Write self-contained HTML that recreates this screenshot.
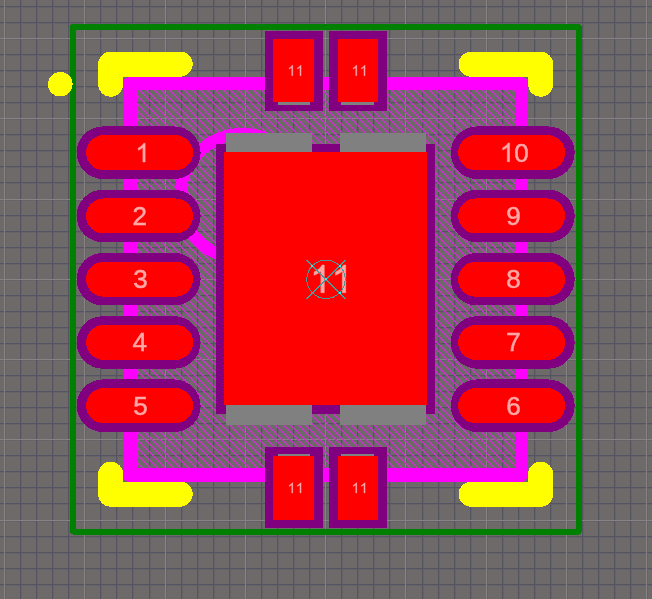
<!DOCTYPE html><html><head><meta charset="utf-8"><style>html,body{margin:0;padding:0;background:#6e6a6a;}svg{display:block}text{font-family:"Liberation Sans",sans-serif;}</style></head><body>
<div style="position:relative;width:652px;height:599px;overflow:hidden">
<svg width="652" height="599" style="position:absolute;left:0;top:0" shape-rendering="crispEdges"><rect width="652" height="599" fill="#6e6a6a"/><path d="M20 0h1v599h-1zM36 0h1v599h-1zM52 0h1v599h-1zM68 0h1v599h-1zM100 0h1v599h-1zM116 0h1v599h-1zM132 0h1v599h-1zM149 0h1v599h-1zM181 0h1v599h-1zM197 0h1v599h-1zM213 0h1v599h-1zM229 0h1v599h-1zM261 0h1v599h-1zM277 0h1v599h-1zM293 0h1v599h-1zM309 0h1v599h-1zM341 0h1v599h-1zM357 0h1v599h-1zM373 0h1v599h-1zM389 0h1v599h-1zM422 0h1v599h-1zM438 0h1v599h-1zM454 0h1v599h-1zM470 0h1v599h-1zM502 0h1v599h-1zM518 0h1v599h-1zM534 0h1v599h-1zM550 0h1v599h-1zM582 0h1v599h-1zM598 0h1v599h-1zM614 0h1v599h-1zM630 0h1v599h-1zM0 6h652v1h-652zM0 22h652v1h-652zM0 54h652v1h-652zM0 70h652v1h-652zM0 86h652v1h-652zM0 102h652v1h-652zM0 134h652v1h-652zM0 150h652v1h-652zM0 166h652v1h-652zM0 182h652v1h-652zM0 215h652v1h-652zM0 231h652v1h-652zM0 247h652v1h-652zM0 263h652v1h-652zM0 295h652v1h-652zM0 311h652v1h-652zM0 327h652v1h-652zM0 343h652v1h-652zM0 375h652v1h-652zM0 391h652v1h-652zM0 407h652v1h-652zM0 423h652v1h-652zM0 455h652v1h-652zM0 471h652v1h-652zM0 487h652v1h-652zM0 503h652v1h-652zM0 536h652v1h-652zM0 552h652v1h-652zM0 568h652v1h-652zM0 584h652v1h-652z" fill="#545462"/><path d="M4 0h1v599h-1zM84 0h1v599h-1zM165 0h1v599h-1zM245 0h1v599h-1zM325 0h1v599h-1zM405 0h1v599h-1zM486 0h1v599h-1zM566 0h1v599h-1zM646 0h1v599h-1zM0 38h652v1h-652zM0 118h652v1h-652zM0 199h652v1h-652zM0 279h652v1h-652zM0 359h652v1h-652zM0 439h652v1h-652zM0 520h652v1h-652z" fill="#878384"/><clipPath id="fhc"><rect x="136" y="90" width="380" height="378"/></clipPath><path clip-path="url(#fhc)" d="M-244 88L138 470M-237 88L145 470M-229 88L153 470M-222 88L160 470M-214 88L168 470M-206 88L176 470M-199 88L183 470M-191 88L191 470M-183 88L199 470M-176 88L206 470M-168 88L214 470M-160 88L222 470M-153 88L229 470M-145 88L237 470M-138 88L244 470M-130 88L252 470M-122 88L260 470M-115 88L267 470M-107 88L275 470M-99 88L283 470M-92 88L290 470M-84 88L298 470M-76 88L306 470M-69 88L313 470M-61 88L321 470M-53 88L329 470M-46 88L336 470M-38 88L344 470M-31 88L351 470M-23 88L359 470M-15 88L367 470M-8 88L374 470M0 88L382 470M8 88L390 470M15 88L397 470M23 88L405 470M31 88L413 470M38 88L420 470M46 88L428 470M53 88L435 470M61 88L443 470M69 88L451 470M76 88L458 470M84 88L466 470M92 88L474 470M99 88L481 470M107 88L489 470M115 88L497 470M122 88L504 470M130 88L512 470M138 88L520 470M145 88L527 470M153 88L535 470M160 88L542 470M168 88L550 470M176 88L558 470M183 88L565 470M191 88L573 470M199 88L581 470M206 88L588 470M214 88L596 470M222 88L604 470M229 88L611 470M237 88L619 470M244 88L626 470M252 88L634 470M260 88L642 470M267 88L649 470M275 88L657 470M283 88L665 470M290 88L672 470M298 88L680 470M306 88L688 470M313 88L695 470M321 88L703 470M329 88L711 470M336 88L718 470M344 88L726 470M351 88L733 470M359 88L741 470M367 88L749 470M374 88L756 470M382 88L764 470M390 88L772 470M397 88L779 470M405 88L787 470M413 88L795 470M420 88L802 470M428 88L810 470M435 88L817 470M443 88L825 470M451 88L833 470M458 88L840 470M466 88L848 470M474 88L856 470M481 88L863 470M489 88L871 470M497 88L879 470M504 88L886 470M512 88L894 470" stroke="#c832c8" stroke-width="1.4" fill="none" shape-rendering="auto"/></svg>
<canvas id="cv" width="652" height="599" style="position:absolute;left:0;top:0"></canvas>
<svg width="652" height="599" viewBox="0 0 652 599" style="position:absolute;left:0;top:0" shape-rendering="crispEdges">
<path fill="#ff00ff" fill-rule="evenodd" d="M129.5 77H521.5A6.5 6.5 0 0 1 528 83.5V475.5A6.5 6.5 0 0 1 521.5 482H129.5A6.5 6.5 0 0 1 123 475.5V83.5A6.5 6.5 0 0 1 129.5 77ZM137 90V468H515V90Z"/>
<circle cx="242.85" cy="196.65" r="62.55" fill="none" stroke="#ff00ff" stroke-width="12.2"/>
<rect x="73" y="27" width="505.6" height="504.5" fill="none" stroke="#008000" stroke-width="6" stroke-linejoin="round"/>
<path d="M180.20 64.20 L110.70 64.20 L110.70 84.20" fill="none" stroke="#ffff00" stroke-width="25" stroke-linecap="round" stroke-linejoin="round"/>
<path d="M471.10 64.20 L540.60 64.20 L540.60 84.20" fill="none" stroke="#ffff00" stroke-width="25" stroke-linecap="round" stroke-linejoin="round"/>
<path d="M180.20 494.20 L110.70 494.20 L110.70 474.20" fill="none" stroke="#ffff00" stroke-width="25" stroke-linecap="round" stroke-linejoin="round"/>
<path d="M471.10 494.20 L540.60 494.20 L540.60 474.20" fill="none" stroke="#ffff00" stroke-width="25" stroke-linecap="round" stroke-linejoin="round"/>
<circle cx="60.3" cy="84.2" r="12.3" fill="#ffff00"/>
<rect x="76.60" y="126.45" width="124.00" height="52.50" rx="26.25" fill="#800080"/>
<rect x="450.70" y="126.45" width="124.00" height="52.50" rx="26.25" fill="#800080"/>
<rect x="76.60" y="189.70" width="124.00" height="52.50" rx="26.25" fill="#800080"/>
<rect x="450.70" y="189.70" width="124.00" height="52.50" rx="26.25" fill="#800080"/>
<rect x="76.60" y="252.95" width="124.00" height="52.50" rx="26.25" fill="#800080"/>
<rect x="450.70" y="252.95" width="124.00" height="52.50" rx="26.25" fill="#800080"/>
<rect x="76.60" y="316.20" width="124.00" height="52.50" rx="26.25" fill="#800080"/>
<rect x="450.70" y="316.20" width="124.00" height="52.50" rx="26.25" fill="#800080"/>
<rect x="76.60" y="379.45" width="124.00" height="52.50" rx="26.25" fill="#800080"/>
<rect x="450.70" y="379.45" width="124.00" height="52.50" rx="26.25" fill="#800080"/>
<rect x="86.10" y="135.20" width="107.00" height="35.00" rx="17.50" fill="#ff0000"/>
<rect x="458.20" y="135.20" width="107.00" height="35.00" rx="17.50" fill="#ff0000"/>
<rect x="86.10" y="198.45" width="107.00" height="35.00" rx="17.50" fill="#ff0000"/>
<rect x="458.20" y="198.45" width="107.00" height="35.00" rx="17.50" fill="#ff0000"/>
<rect x="86.10" y="261.70" width="107.00" height="35.00" rx="17.50" fill="#ff0000"/>
<rect x="458.20" y="261.70" width="107.00" height="35.00" rx="17.50" fill="#ff0000"/>
<rect x="86.10" y="324.95" width="107.00" height="35.00" rx="17.50" fill="#ff0000"/>
<rect x="458.20" y="324.95" width="107.00" height="35.00" rx="17.50" fill="#ff0000"/>
<rect x="86.10" y="388.20" width="107.00" height="35.00" rx="17.50" fill="#ff0000"/>
<rect x="458.20" y="388.20" width="107.00" height="35.00" rx="17.50" fill="#ff0000"/>
<rect x="264.5" y="30.6" width="58.30" height="79.90" fill="#800080"/>
<rect x="328.5" y="30.6" width="58.20" height="79.90" fill="#800080"/>
<rect x="264.5" y="447.2" width="58.20" height="80.80" fill="#800080"/>
<rect x="328.5" y="447.2" width="58.20" height="80.80" fill="#800080"/>
<rect x="278" y="100" width="32.20" height="5.00" fill="#808080"/>
<rect x="340.9" y="100" width="33.30" height="5.00" fill="#808080"/>
<rect x="278" y="454.2" width="32.10" height="3.80" fill="#808080"/>
<rect x="340.9" y="454.2" width="33.30" height="3.80" fill="#808080"/>
<rect x="272.9" y="39" width="41.30" height="63.00" fill="#ff0000"/>
<rect x="338" y="39" width="40.20" height="63.00" fill="#ff0000"/>
<rect x="272.9" y="455.9" width="41.40" height="63.90" fill="#ff0000"/>
<rect x="338" y="455.9" width="40.20" height="63.90" fill="#ff0000"/>
<rect x="216" y="144" width="219.2" height="269.8" fill="#800080"/>
<rect x="226.2" y="132.8" width="85.50" height="292.10" fill="#808080"/>
<rect x="340" y="132.8" width="86.30" height="292.10" fill="#808080"/>
<rect x="224" y="152.4" width="203" height="252.9" fill="#ff0000"/>
<filter id="tb" x="-10%" y="-10%" width="120%" height="120%"><feGaussianBlur stdDeviation="0.35"/></filter>
<g fill="#ffa8a8" stroke="#ffa8a8" stroke-width="0.5" shape-rendering="geometricPrecision" filter="url(#tb)">
<path transform="translate(135.48 162.00) scale(0.01270 -0.01270)" d="M763 0L583 0L583 1147Q518 1085 412 1023Q306 961 222 930L222 1104Q373 1175 486 1276Q599 1377 646 1472L763 1472Z" vector-effect="non-scaling-stroke"/>
<text x="132.49" y="224.95" font-size="26">2</text>
<text x="133.31" y="288.20" font-size="26">3</text>
<text x="132.40" y="351.45" font-size="26">4</text>
<text x="133.26" y="414.70" font-size="26">5</text>
<path transform="translate(499.88 161.70) scale(0.01270 -0.01270)" d="M763 0L583 0L583 1147Q518 1085 412 1023Q306 961 222 930L222 1104Q373 1175 486 1276Q599 1377 646 1472L763 1472Z" vector-effect="non-scaling-stroke"/>
<text x="514.2" y="161.70" font-size="26">0</text>
<text x="506.3" y="224.95" font-size="26">9</text>
<text x="506.3" y="288.20" font-size="26">8</text>
<text x="506.3" y="351.45" font-size="26">7</text>
<text x="506.3" y="414.70" font-size="26">6</text>
<path transform="translate(287.48 75.70) scale(0.00708 -0.00708)" d="M763 0L583 0L583 1147Q518 1085 412 1023Q306 961 222 930L222 1104Q373 1175 486 1276Q599 1377 646 1472L763 1472Z" vector-effect="non-scaling-stroke" stroke-width="0.2"/>
<path transform="translate(295.74 75.70) scale(0.00708 -0.00708)" d="M763 0L583 0L583 1147Q518 1085 412 1023Q306 961 222 930L222 1104Q373 1175 486 1276Q599 1377 646 1472L763 1472Z" vector-effect="non-scaling-stroke" stroke-width="0.2"/>
<path transform="translate(287.48 493.10) scale(0.00708 -0.00708)" d="M763 0L583 0L583 1147Q518 1085 412 1023Q306 961 222 930L222 1104Q373 1175 486 1276Q599 1377 646 1472L763 1472Z" vector-effect="non-scaling-stroke" stroke-width="0.2"/>
<path transform="translate(295.74 493.10) scale(0.00708 -0.00708)" d="M763 0L583 0L583 1147Q518 1085 412 1023Q306 961 222 930L222 1104Q373 1175 486 1276Q599 1377 646 1472L763 1472Z" vector-effect="non-scaling-stroke" stroke-width="0.2"/>
<path transform="translate(351.48 75.70) scale(0.00708 -0.00708)" d="M763 0L583 0L583 1147Q518 1085 412 1023Q306 961 222 930L222 1104Q373 1175 486 1276Q599 1377 646 1472L763 1472Z" vector-effect="non-scaling-stroke" stroke-width="0.2"/>
<path transform="translate(359.74 75.70) scale(0.00708 -0.00708)" d="M763 0L583 0L583 1147Q518 1085 412 1023Q306 961 222 930L222 1104Q373 1175 486 1276Q599 1377 646 1472L763 1472Z" vector-effect="non-scaling-stroke" stroke-width="0.2"/>
<path transform="translate(351.48 493.10) scale(0.00708 -0.00708)" d="M763 0L583 0L583 1147Q518 1085 412 1023Q306 961 222 930L222 1104Q373 1175 486 1276Q599 1377 646 1472L763 1472Z" vector-effect="non-scaling-stroke" stroke-width="0.2"/>
<path transform="translate(359.74 493.10) scale(0.00708 -0.00708)" d="M763 0L583 0L583 1147Q518 1085 412 1023Q306 961 222 930L222 1104Q373 1175 486 1276Q599 1377 646 1472L763 1472Z" vector-effect="non-scaling-stroke" stroke-width="0.2"/>
<path transform="translate(309.93 292.70) scale(0.01880 -0.01880)" d="M763 0L583 0L583 1147Q518 1085 412 1023Q306 961 222 930L222 1104Q373 1175 486 1276Q599 1377 646 1472L763 1472Z" vector-effect="non-scaling-stroke"/>
<path transform="translate(331.34 292.70) scale(0.01880 -0.01880)" d="M763 0L583 0L583 1147Q518 1085 412 1023Q306 961 222 930L222 1104Q373 1175 486 1276Q599 1377 646 1472L763 1472Z" vector-effect="non-scaling-stroke"/>
</g>
<g fill="none" stroke="#4a9c9c" stroke-width="1"><circle cx="326" cy="279.3" r="19.2"/><path d="M306.6 259.9L345.4 298.7M345.4 259.9L306.6 298.7"/></g>
<rect x="325" y="278" width="2" height="2" fill="#30f0f0"/>
<rect x="311" y="265" width="2" height="2" fill="#30f0f0"/>
<rect x="339" y="265" width="2" height="2" fill="#30f0f0"/>
<rect x="339" y="292" width="2" height="2" fill="#30f0f0"/>
</svg></div>
<script>
(function(){
var W=652,H=599;
var cv=document.getElementById('cv');var ctx=cv.getContext('2d');
var im=ctx.createImageData(W,H);var d=im.data;
function hex(h){return [parseInt(h.substr(1,2),16),parseInt(h.substr(3,2),16),parseInt(h.substr(5,2),16)];}
var BG=hex('#6e6a6a'),FI=hex('#545462'),CO=hex('#878384'),MG=hex('#c832c8');
function px(x,y,c){if(x<0||y<0||x>=W||y>=H)return;var i=(y*W+x)*4;d[i]=c[0];d[i+1]=c[1];d[i+2]=c[2];d[i+3]=255;}
for(var y=0;y<H;y++)for(var x=0;x<W;x++)px(x,y,BG);
var vx=[],hy=[];
for(var k=0;;k++){var x=4.5+k*16.06;if(x>W)break;vx.push([Math.floor(x),k%5==0]);}
for(var k=0;;k++){var y=6.4+k*16.05;if(y>H)break;hy.push([Math.floor(y),(k-2)%5==0]);}
var HA=[0,1,2].map(function(i){return Math.round(BG[i]+(FI[i]-BG[i])*0.3);});
vx.forEach(function(v){for(var y=0;y<H;y++)px(v[0]+1,y,HA);});
hy.forEach(function(v){for(var x=0;x<W;x++)px(x,v[0]+1,HA);});
vx.forEach(function(v){if(!v[1])for(var y=0;y<H;y++)px(v[0],y,FI);});
hy.forEach(function(v){if(!v[1])for(var x=0;x<W;x++)px(x,v[0],FI);});
vx.forEach(function(v){if(v[1])for(var y=0;y<H;y++)px(v[0],y,CO);});
hy.forEach(function(v){if(v[1])for(var x=0;x<W;x++)px(x,v[0],CO);});
var X0=136,X1=516,Y0=90,Y1=468;
for(var k=-100;k<100;k++){var c=Math.floor(49+k*7.64);
 for(var y=Y0;y<Y1;y++){for(var t=0;t<2;t++){var x=y+c+t;if(x>=X0&&x<X1)px(x,y,MG);}}}
ctx.putImageData(im,0,0);
})();
</script>
</body></html>
